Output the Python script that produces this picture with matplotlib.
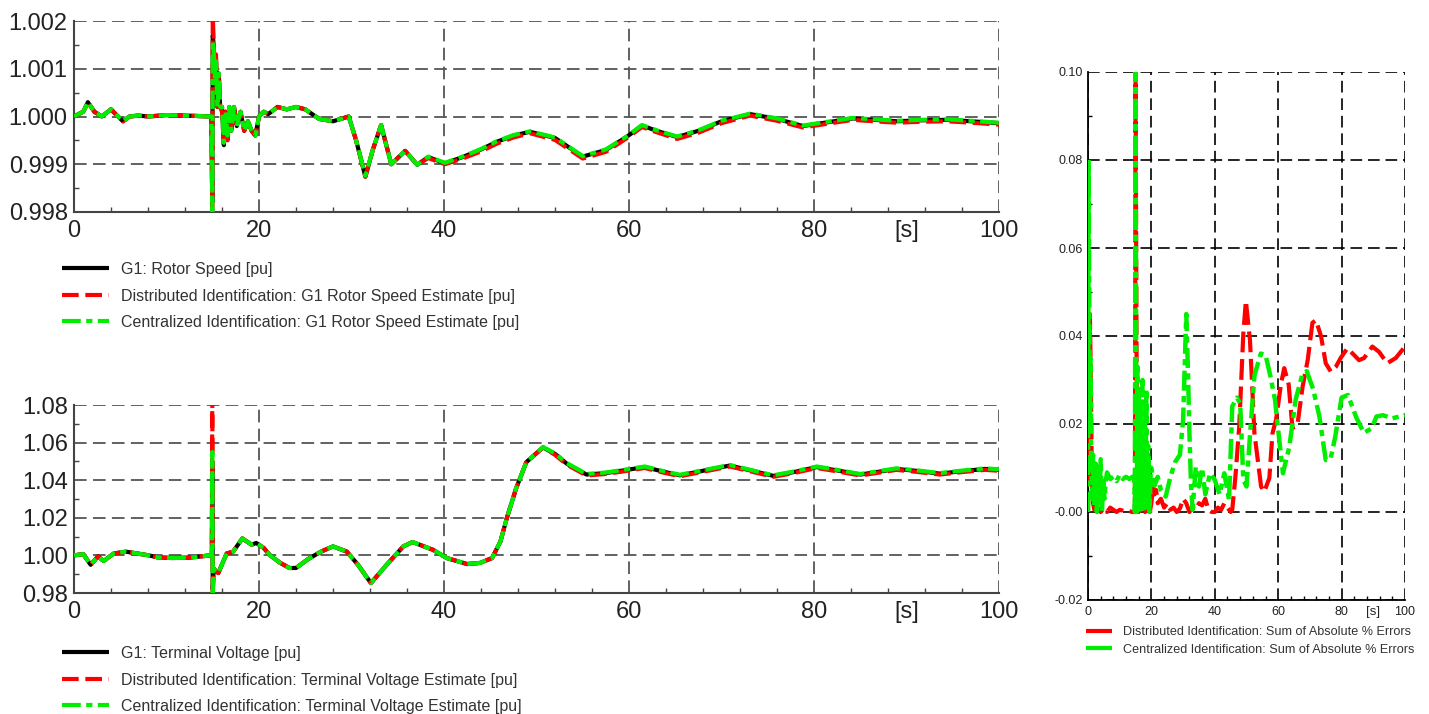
import matplotlib
matplotlib.use("Agg")
import matplotlib.pyplot as plt
from matplotlib import font_manager as fm
from matplotlib.lines import Line2D
from matplotlib.ticker import MultipleLocator, FixedLocator, FixedFormatter

# ---------------- data ----------------
# Top panel: rotor speed [pu]
t_speed = [0, 1, 1.5, 2.2, 3, 4, 4.5, 5.3, 6, 7,
           8, 10, 12, 14.85, 14.95, 15.0, 15.1, 15.2, 15.35, 15.5,
           15.65, 15.8, 16.0, 16.2, 16.4, 16.6, 16.8, 17.0, 17.3, 17.6,
           18.0, 18.4, 18.8, 19.2, 19.6, 20.0, 20.5, 21, 22, 23,
           24, 25, 26.5, 28, 29.7, 30.5, 31.5, 32.3, 33.2, 34.3,
           35.8, 37.1, 38.3, 40.1, 42, 43.9, 45.7, 47.5, 49.3, 52,
           55, 57.5, 59.8, 61.4, 63, 65.2, 67.5, 70, 73.1, 76,
           78.8, 81.5, 84.2, 86.5, 89, 91.5, 94.4, 97, 100]
speed_meas = [1.0, 1.0001, 1.0003, 1.0001, 1.0, 1.00015, 1.00005, 0.9999, 1.0, 1.00002,
              1.0, 1.00003, 1.00002, 1.0, 0.9982, 1.0017, 1.0015, 1.0008, 1.0012, 1.0002,
              1.0009, 1.0002, 1.0002, 0.9994, 1.0001, 0.9996, 1.0002, 0.9997, 1.0002, 0.9998,
              1.0001, 0.9997, 0.9999, 0.9997, 0.9996, 1.0, 1.0001, 1.00005, 1.0002, 1.00015,
              1.0002, 1.00015, 0.99995, 0.9999, 1.0, 0.9995, 0.99874, 0.9993, 0.99982, 0.999,
              0.99928, 0.99899, 0.99915, 0.99902, 0.99915, 0.9993, 0.99947, 0.9996, 0.99968, 0.99955,
              0.99916, 0.9993, 0.99958, 0.99981, 0.9997, 0.99957, 0.9997, 0.9999, 1.00005, 0.99995,
              0.9998, 0.99988, 0.99996, 0.99993, 0.9999, 0.99992, 0.99993, 0.9999, 0.99986]
speed_dist = [1.0, 1.0001, 1.0003, 1.0001, 1.0, 1.00015, 1.00005, 0.9999, 1.0, 1.00002,
              1.0, 1.00003, 1.00002, 1.0, 0.9979, 1.0021, 1.0016, 1.0009, 1.0013, 1.0002,
              1.0009, 1.0002, 1.0001, 0.9994, 1.0001, 0.9995, 1.0002, 0.9997, 1.0002, 0.9998,
              1.0001, 0.9997, 0.9999, 0.9997, 0.9996, 1.0, 1.0001, 1.00005, 1.0002, 1.00015,
              1.0002, 1.00015, 0.99995, 0.9999, 1.0, 0.9995, 0.99874, 0.9993, 0.99982, 0.999,
              0.99928, 0.99899, 0.99913, 0.999, 0.99912, 0.99926, 0.99943, 0.99956, 0.99965, 0.99951,
              0.99912, 0.99926, 0.99955, 0.99978, 0.99967, 0.99953, 0.99966, 0.99986, 1.00002, 0.99991,
              0.99977, 0.99985, 0.99993, 0.9999, 0.99987, 0.99989, 0.9999, 0.99987, 0.99983]
speed_cent = [1.0, 1.0001, 1.0003, 1.0001, 1.0, 1.00015, 1.00005, 0.9999, 1.0, 1.00002,
              1.0, 1.00003, 1.00002, 1.0, 0.998, 1.0016, 1.0014, 1.0008, 1.0012, 1.0002,
              1.0009, 1.0002, 1.0002, 0.99945, 1.0001, 0.9996, 1.0002, 0.9997, 1.0002, 0.9998,
              1.0001, 0.9997, 0.9999, 0.9997, 0.9996, 1.0, 1.0001, 1.00005, 1.0002, 1.00015,
              1.0002, 1.00015, 0.99995, 0.9999, 1.0, 0.9995, 0.99876, 0.9993, 0.99982, 0.999,
              0.99928, 0.99899, 0.99916, 0.99903, 0.99916, 0.99931, 0.99948, 0.99961, 0.99969, 0.99956,
              0.99917, 0.99931, 0.99959, 0.99982, 0.99971, 0.99958, 0.99971, 0.99991, 1.00006, 0.99996,
              0.99981, 0.99989, 0.99997, 0.99994, 0.99991, 0.99993, 0.99994, 0.99991, 0.99987]

# Bottom panel: terminal voltage [pu]
t_volt = [0, 1, 1.8, 2.6, 3.2, 4.3, 5.6, 8.1, 9, 10.6,
          12.5, 14.7, 14.9, 14.95, 15.0, 15.1, 15.6, 16.5, 17.2, 18.2,
          19.2, 19.7, 20.5, 21.2, 22.3, 23.3, 24, 25.3, 26.7, 28,
          29.5, 30.7, 32.1, 33.8, 35.6, 36.6, 38.8, 40.3, 42.5, 43.9,
          45.2, 46.1, 46.8, 47.8, 48.9, 50.7, 52, 53.3, 55.4, 57.5,
          59.4, 61.7, 63.5, 65.5, 68, 70.9, 73.3, 75.6, 78, 80.3,
          82.5, 85, 87, 88.9, 91, 93.6, 96, 98.5, 100]
volt_meas = [1.0, 1.0007, 0.995, 0.9995, 0.997, 1.001, 1.002, 1.0, 0.999, 0.9986,
             0.9988, 1.0, 1.0, 1.05, 0.982, 0.993, 0.9906, 1.001, 1.002, 1.009,
             1.0057, 1.0066, 1.004, 1.0, 0.996, 0.9933, 0.9933, 0.998, 1.002, 1.0048,
             1.002, 0.995, 0.9853, 0.995, 1.0048, 1.0071, 1.003, 0.9986, 0.9954, 0.996,
             0.9986, 1.0074, 1.02, 1.0357, 1.0496, 1.0574, 1.054, 1.0487, 1.043, 1.0438,
             1.0452, 1.047, 1.0448, 1.0426, 1.045, 1.0478, 1.045, 1.0423, 1.0445, 1.047,
             1.0452, 1.043, 1.0445, 1.046, 1.045, 1.0435, 1.0448, 1.046, 1.0455]
volt_dist = [1.0, 1.0007, 0.995, 0.9995, 0.997, 1.001, 1.002, 1.0, 0.999, 0.9986,
             0.9988, 1.0, 1.0, 1.09, 0.978, 0.993, 0.9906, 1.001, 1.002, 1.009,
             1.0057, 1.0066, 1.004, 1.0, 0.996, 0.9933, 0.9933, 0.998, 1.002, 1.0048,
             1.002, 0.995, 0.9853, 0.995, 1.0048, 1.0071, 1.003, 0.9986, 0.9954, 0.996,
             0.9986, 1.0074, 1.02, 1.0357, 1.0496, 1.0574, 1.0535, 1.0482, 1.0425, 1.0433,
             1.0447, 1.0465, 1.0443, 1.0421, 1.0445, 1.0473, 1.0445, 1.0418, 1.044, 1.0465,
             1.0447, 1.0425, 1.044, 1.0455, 1.0445, 1.043, 1.0443, 1.0455, 1.045]
volt_cent = [1.0, 1.0007, 0.995, 0.9995, 0.997, 1.001, 1.002, 1.0, 0.999, 0.9986,
             0.9988, 1.0, 1.0, 1.055, 0.98, 0.993, 0.9906, 1.001, 1.002, 1.009,
             1.0057, 1.0066, 1.004, 1.0, 0.996, 0.9933, 0.9933, 0.998, 1.002, 1.0048,
             1.002, 0.995, 0.9853, 0.995, 1.0048, 1.0071, 1.003, 0.9986, 0.9954, 0.996,
             0.9986, 1.0074, 1.02, 1.0357, 1.0496, 1.0576, 1.0543, 1.049, 1.0433, 1.0441,
             1.0455, 1.0473, 1.0451, 1.0429, 1.0453, 1.0481, 1.0453, 1.0426, 1.0448, 1.0473,
             1.0455, 1.0433, 1.0448, 1.0463, 1.0453, 1.0438, 1.0451, 1.0463, 1.0458]

# Right panel: sum of absolute % errors
t_err_dist = [0, 0.3, 0.6, 0.9, 1.2, 1.6, 2, 3, 4, 5,
              6, 7, 8, 9, 10, 11, 12, 13, 14, 14.8,
              15.0, 15.2, 15.4, 15.6, 16, 16.5, 17, 17.5, 18, 18.5,
              19, 19.5, 20, 20.5, 21, 21.5, 22, 23, 24, 25,
              26, 27, 28, 29, 30, 31, 32, 33, 34, 35,
              36, 37, 38, 39, 40, 41, 42, 43, 44, 45,
              45.5, 46.5, 47.7, 49, 49.8, 51.1, 52.5, 54.6, 55.6, 57.2,
              58.2, 59.3, 60.9, 61.9, 63.3, 64.5, 66.1, 67.7, 69.3, 70.8,
              71.9, 73.5, 75, 76.6, 78.2, 79.7, 81.8, 83.9, 85.5, 87.1,
              89.7, 91.8, 94.4, 97.1, 100]
err_dist = [0, 0.01, 0.045, 0.03, 0.008, 0.002, 0.0005, 0.001, 0.0, 0.0008,
            0.0, 0.001, 0.0005, 0.0, 0.0005, 0.0003, 0.0, 0.0002, 0.0, 0.0,
            0.10, 0.06, 0.02, 0.004, 0.0, 0.003, 0.001, 0.004, 0.0, 0.003,
            0.001, 0.0, 0.002, 0.006, 0.004, 0.005, 0.002, 0.003, 0.001, 0.002,
            0.0005, 0.001, 0.0, 0.0008, 0.003, 0.002, 0.0, 0.001, 0.0005, 0.002,
            0.0015, 0.003, 0.0005, 0.0, 0.0, 0.001, 0.0005, 0.002, 0.001, 0.0,
            0.0005, 0.008, 0.0194, 0.0406, 0.048, 0.039, 0.0179, 0.0058, 0.0046, 0.0077,
            0.0179, 0.0209, 0.0292, 0.0327, 0.029, 0.019, 0.02, 0.0285, 0.0345, 0.043,
            0.0436, 0.04, 0.0338, 0.0319, 0.033, 0.035, 0.0372, 0.0357, 0.0345, 0.035,
            0.0376, 0.0364, 0.0338, 0.035, 0.0376]
t_err_cent = [0, 0.2, 0.4, 0.6, 0.8, 1.0, 1.3, 1.6, 2.0, 2.4,
              2.8, 3.2, 3.6, 4.0, 4.4, 4.8, 5.2, 5.6, 6, 7,
              8, 9, 10, 11, 12, 13, 14, 14.6, 14.8, 15.0,
              15.2, 15.4, 15.6, 15.8, 16.0, 16.3, 16.6, 16.9, 17.2, 17.5,
              17.8, 18.1, 18.4, 18.7, 19.0, 19.4, 19.8, 20, 21, 22,
              23, 24.5, 26, 27.5, 29, 30, 31, 31.5, 32, 32.5,
              33, 34, 35, 36, 37, 38.5, 40, 41.5, 43, 44.5,
              45.5, 47, 48, 49, 50, 51, 52.5, 54.5, 56, 57.5,
              59, 60, 61.5, 63.5, 65.5, 67.5, 69, 71, 73, 75,
              76.5, 78, 80, 82, 84.5, 87, 89.5, 91, 93, 96,
              100]
err_cent = [0, 0.08, 0.05, 0.02, 0.035, 0.012, 0.003, 0.013, 0.001, 0.011,
            0.0, 0.009, 0.002, 0.012, 0.0, 0.008, 0.003, 0.007, 0.009, 0.0075,
            0.008, 0.007, 0.0085, 0.0075, 0.008, 0.0075, 0.008, 0.0078, 0.0, 0.10,
            0.03, 0.0, 0.033, 0.005, 0.028, 0.0, 0.025, 0.003, 0.03, 0.0,
            0.02, 0.002, 0.028, 0.0, 0.015, 0.0, 0.01, 0.01, 0.006, 0.008,
            0.005, 0.0035, 0.008, 0.0114, 0.013, 0.021, 0.045, 0.033, 0.018, 0.006,
            0.0005, 0.0103, 0.0058, 0.010, 0.004, 0.0088, 0.0073, 0.004, 0.0088, 0.0027,
            0.024, 0.026, 0.0247, 0.0073, 0.0058, 0.0164, 0.031, 0.036, 0.0357, 0.031,
            0.0255, 0.0186, 0.0088, 0.0148, 0.0255, 0.031, 0.032, 0.028, 0.0217, 0.0118,
            0.012, 0.0171, 0.026, 0.0266, 0.0217, 0.018, 0.019, 0.0217, 0.022, 0.0213,
            0.022]

speed_labels = ["G1: Rotor Speed [pu]",
                "Distributed Identification: G1 Rotor Speed Estimate [pu]",
                "Centralized Identification: G1 Rotor Speed Estimate [pu]"]
volt_labels = ["G1: Terminal Voltage [pu]",
               "Distributed Identification: Terminal Voltage Estimate [pu]",
               "Centralized Identification: Terminal Voltage Estimate [pu]"]
err_labels = ["Distributed Identification: Sum of Absolute % Errors",
              "Centralized Identification: Sum of Absolute % Errors"]

speed_yticks = [0.998, 0.999, 1.000, 1.001, 1.002]
speed_yticklabels = ["0.998", "0.999", "1.000", "1.001", "1.002"]
volt_yticks = [0.98, 1.00, 1.02, 1.04, 1.06, 1.08]
volt_yticklabels = ["0.98", "1.00", "1.02", "1.04", "1.06", "1.08"]
err_yticks = [-0.02, 0.0, 0.02, 0.04, 0.06, 0.08, 0.10]
err_yticklabels = ["-0.02", "-0.00", "0.02", "0.04", "0.06", "0.08", "0.10"]
x_ticks = [0, 20, 40, 60, 80, 100]
x_ticklabels = ["0", "20", "40", "60", "80", "100"]

# ---------------- style ----------------
names = {f.name for f in fm.fontManager.ttflist}
MAIN_FONT = "Liberation Sans" if "Liberation Sans" in names else "DejaVu Sans"
plt.rcParams["font.family"] = [MAIN_FONT, "DejaVu Sans"]

W, H = 1429, 714
fig = plt.figure(figsize=(W / 100, H / 100), dpi=100)


def px_rect(left, top, right, bottom):
    return [left / W, 1 - bottom / H, (right - left) / W, (bottom - top) / H]


RED = "#ff0000"
GREEN = "#00ee00"
GRID_L = "#555555"

red_ls = (0, (4, 1.6))
green_ls = (0, (4.5, 1.3, 1.5, 1.3))


def style_left(ax, yticks, ylabels, yminor):
    ax.set_xlim(0, 100)
    ax.set_ylim(yticks[0], yticks[-1])
    ax.xaxis.set_major_locator(FixedLocator(x_ticks))
    ax.xaxis.set_major_formatter(FixedFormatter(x_ticklabels))
    ax.yaxis.set_major_locator(FixedLocator(yticks))
    ax.yaxis.set_major_formatter(FixedFormatter(ylabels))
    ax.xaxis.set_minor_locator(MultipleLocator(4))
    ax.yaxis.set_minor_locator(MultipleLocator(yminor))
    ax.grid(True, which="major", color=GRID_L, linestyle=(0, (7, 3.5)), linewidth=1.3)
    ax.tick_params(which="major", length=0, labelsize=17, colors="#222222")
    ax.tick_params(axis="x", which="major", pad=6)
    ax.tick_params(axis="y", which="major", pad=4.5)
    ax.tick_params(which="minor", direction="in", length=3.5, width=1, color="#444444")
    for s in ["top", "right"]:
        ax.spines[s].set_visible(False)
    for s in ["left", "bottom"]:
        ax.spines[s].set_color("#444444")
        ax.spines[s].set_linewidth(1.5)
    ax.annotate("[s]", xy=(90, 0), xycoords=("data", "axes fraction"),
                xytext=(0, -6), textcoords="offset points", ha="center", va="top",
                fontsize=17, color="#222222")


def draw_three(ax, t, a, b, c, labels):
    l1, = ax.plot(t, a, color="black", lw=3, solid_capstyle="butt", label=labels[0], zorder=3)
    l2, = ax.plot(t, b, color=RED, lw=3, linestyle=red_ls, dash_capstyle="butt", label=labels[1], zorder=4)
    l3, = ax.plot(t, c, color=GREEN, lw=3, linestyle=green_ls, dash_capstyle="butt", label=labels[2], zorder=5)
    return [l1, l2, l3]


# Top-left: rotor speed
ax1 = fig.add_axes(px_rect(74, 21, 999, 212))
h1 = draw_three(ax1, t_speed, speed_meas, speed_dist, speed_cent, speed_labels)
style_left(ax1, speed_yticks, speed_yticklabels, 0.0005)

# Bottom-left: terminal voltage
ax2 = fig.add_axes(px_rect(74, 405, 999, 593))
h2 = draw_three(ax2, t_volt, volt_meas, volt_dist, volt_cent, volt_labels)
style_left(ax2, volt_yticks, volt_yticklabels, 0.01)

legend_kw = dict(loc="upper left", frameon=False, fontsize=11.5, handlelength=2.95,
                 handletextpad=0.75, labelspacing=0.72, borderpad=0, borderaxespad=0,
                 bbox_transform=fig.transFigure, labelcolor="#333333")
fig.legend(handles=h1, bbox_to_anchor=(62 / W, 1 - 262 / H), **legend_kw)
fig.legend(handles=h2, bbox_to_anchor=(62 / W, 1 - 646 / H), **legend_kw)

# Right: errors
ax3 = fig.add_axes(px_rect(1088, 72, 1405, 600))
ax3.plot(t_err_dist, err_dist, color=RED, lw=3, linestyle=(0, (5, 1.6)), dash_capstyle="butt", zorder=3)
ax3.plot(t_err_cent, err_cent, color=GREEN, lw=3.2, linestyle=(0, (4.5, 1.2, 1.4, 1.2)),
         dash_capstyle="butt", zorder=4)
ax3.set_xlim(0, 100)
ax3.set_ylim(-0.02, 0.10)
ax3.xaxis.set_major_locator(FixedLocator(x_ticks))
ax3.xaxis.set_major_formatter(FixedFormatter(x_ticklabels))
ax3.yaxis.set_major_locator(FixedLocator(err_yticks))
ax3.yaxis.set_major_formatter(FixedFormatter(err_yticklabels))
ax3.xaxis.set_minor_locator(MultipleLocator(4))
ax3.yaxis.set_minor_locator(MultipleLocator(0.01))
ax3.grid(True, which="major", color="black", linestyle=(0, (7, 3.5)), linewidth=1.2)
ax3.tick_params(which="major", length=0, labelsize=9, colors="#222222")
ax3.tick_params(axis="x", which="major", pad=4)
ax3.tick_params(axis="y", which="major", pad=3.5)
ax3.tick_params(which="minor", direction="in", length=3, width=1, color="black")
for s in ["top", "right"]:
    ax3.spines[s].set_visible(False)
for s in ["left", "bottom"]:
    ax3.spines[s].set_color("black")
    ax3.spines[s].set_linewidth(1.3)
ax3.annotate("[s]", xy=(90, 0), xycoords=("data", "axes fraction"),
             xytext=(0, -4), textcoords="offset points", ha="center", va="top",
             fontsize=9.5, color="#222222")

err_handles = [Line2D([], [], color=RED, lw=3, solid_capstyle="butt", label=err_labels[0]),
               Line2D([], [], color=GREEN, lw=3, solid_capstyle="butt", label=err_labels[1])]
fig.legend(handles=err_handles, loc="upper left", frameon=False,
           bbox_to_anchor=(1086 / W, 1 - 626 / H), bbox_transform=fig.transFigure,
           handlelength=2.05, handletextpad=0.85, labelspacing=0.45, borderpad=0, borderaxespad=0,
           fontsize=9.1, labelcolor="#333333")

fig.savefig("out.png", dpi=100, facecolor="white")
